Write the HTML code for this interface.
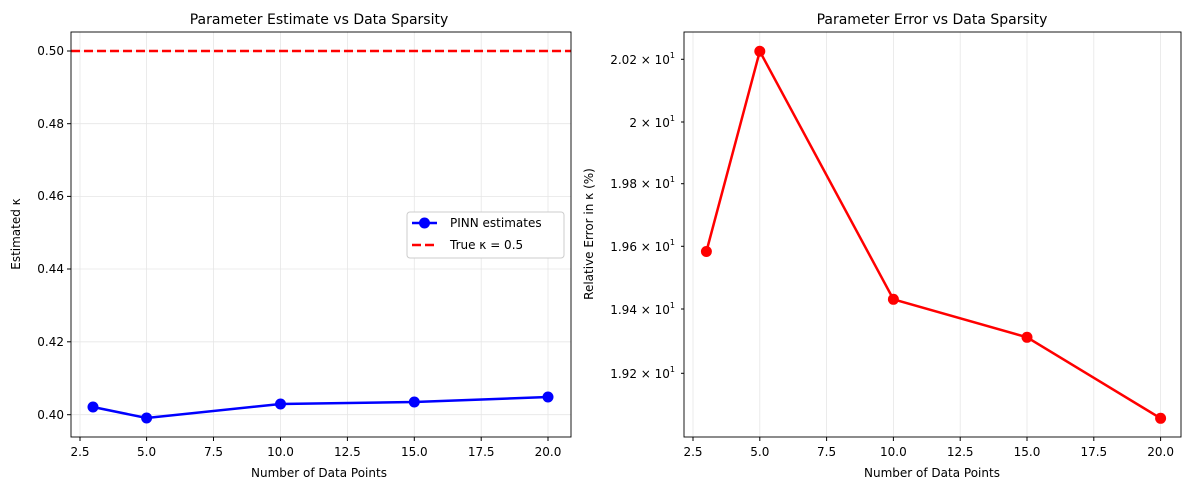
<!DOCTYPE html><html><head><style>body{margin:0;background:#fff}svg{font-family:"DejaVu Sans","Liberation Sans",sans-serif}</style></head><body>
<svg width="1189" height="490" xmlns="http://www.w3.org/2000/svg">
<rect width="1189" height="490" fill="#fff"/>
<g stroke="#e6e6e6" stroke-width="0.8">
<line x1="80" y1="32" x2="80" y2="437"/><line x1="146.6" y1="32" x2="146.6" y2="437"/><line x1="213.5" y1="32" x2="213.5" y2="437"/><line x1="280.5" y1="32" x2="280.5" y2="437"/><line x1="347.4" y1="32" x2="347.4" y2="437"/><line x1="414.3" y1="32" x2="414.3" y2="437"/><line x1="481.2" y1="32" x2="481.2" y2="437"/><line x1="548" y1="32" x2="548" y2="437"/>
<line x1="71" y1="51" x2="571" y2="51"/><line x1="71" y1="123.7" x2="571" y2="123.7"/><line x1="71" y1="196.4" x2="571" y2="196.4"/><line x1="71" y1="269" x2="571" y2="269"/><line x1="71" y1="341.8" x2="571" y2="341.8"/><line x1="71" y1="414.7" x2="571" y2="414.7"/>
<line x1="693" y1="32" x2="693" y2="437"/><line x1="759.8" y1="32" x2="759.8" y2="437"/><line x1="826.6" y1="32" x2="826.6" y2="437"/><line x1="893.4" y1="32" x2="893.4" y2="437"/><line x1="960.2" y1="32" x2="960.2" y2="437"/><line x1="1027" y1="32" x2="1027" y2="437"/><line x1="1093.8" y1="32" x2="1093.8" y2="437"/><line x1="1160.6" y1="32" x2="1160.6" y2="437"/>
</g>
<line x1="71" y1="51" x2="571" y2="51" stroke="#f00" stroke-width="2.5" stroke-dasharray="9,4"/>
<polyline points="93,407 146.6,418 280.5,404 414.3,402 548,397" fill="none" stroke="#00f" stroke-width="2.5"/>
<g fill="#00f"><circle cx="93" cy="407" r="5.5"/><circle cx="146.6" cy="418" r="5.5"/><circle cx="280.5" cy="404" r="5.5"/><circle cx="414.3" cy="402" r="5.5"/><circle cx="548" cy="397" r="5.5"/></g>
<rect x="71" y="32" width="500" height="405" fill="none" stroke="#000" stroke-width="0.9"/>
<g stroke="#000"><line x1="80" y1="437" x2="80" y2="441"/><line x1="146.6" y1="437" x2="146.6" y2="441"/><line x1="213.5" y1="437" x2="213.5" y2="441"/><line x1="280.5" y1="437" x2="280.5" y2="441"/><line x1="347.4" y1="437" x2="347.4" y2="441"/><line x1="414.3" y1="437" x2="414.3" y2="441"/><line x1="481.2" y1="437" x2="481.2" y2="441"/><line x1="548" y1="437" x2="548" y2="441"/>
<line x1="67" y1="51" x2="71" y2="51"/><line x1="67" y1="123.7" x2="71" y2="123.7"/><line x1="67" y1="196.4" x2="71" y2="196.4"/><line x1="67" y1="269" x2="71" y2="269"/><line x1="67" y1="341.8" x2="71" y2="341.8"/><line x1="67" y1="414.7" x2="71" y2="414.7"/></g>
<g font-size="12" text-anchor="middle" fill="#000"><text x="80" y="456">2.5</text><text x="146.6" y="456">5.0</text><text x="213.5" y="456">7.5</text><text x="280.5" y="456">10.0</text><text x="347.4" y="456">12.5</text><text x="414.3" y="456">15.0</text><text x="481.2" y="456">17.5</text><text x="548" y="456">20.0</text></g>
<g font-size="12" text-anchor="end"><text x="64" y="55">0.50</text><text x="64" y="128">0.48</text><text x="64" y="200">0.46</text><text x="64" y="273">0.44</text><text x="64" y="346">0.42</text><text x="64" y="419">0.40</text></g>
<text x="319" y="477" font-size="12" text-anchor="middle">Number of Data Points</text>
<text transform="translate(20,234) rotate(-90)" font-size="12" text-anchor="middle">Estimated κ</text>
<text x="319" y="24" font-size="14" text-anchor="middle">Parameter Estimate vs Data Sparsity</text>
<rect x="407" y="212" width="157" height="46" rx="3" fill="#fff" stroke="#ccc"/>
<line x1="412" y1="223" x2="437" y2="223" stroke="#00f" stroke-width="2.5"/><circle cx="424.5" cy="223" r="5.5" fill="#00f"/>
<line x1="412" y1="245" x2="437" y2="245" stroke="#f00" stroke-width="2.5" stroke-dasharray="9,4"/>
<text x="450" y="227" font-size="12">PINN estimates</text><text x="450" y="249" font-size="12">True κ = 0.5</text>
<polyline points="706.4,251.5 759.8,51.3 893.4,299.3 1027,337.3 1160.6,418.3" fill="none" stroke="#f00" stroke-width="2.5"/>
<g fill="#f00"><circle cx="706.4" cy="251.5" r="5.5"/><circle cx="759.8" cy="51.3" r="5.5"/><circle cx="893.4" cy="299.3" r="5.5"/><circle cx="1027" cy="337.3" r="5.5"/><circle cx="1160.6" cy="418.3" r="5.5"/></g>
<rect x="684" y="32" width="497" height="405" fill="none" stroke="#000" stroke-width="0.9"/>
<g stroke="#000"><line x1="693" y1="437" x2="693" y2="441"/><line x1="759.8" y1="437" x2="759.8" y2="441"/><line x1="826.6" y1="437" x2="826.6" y2="441"/><line x1="893.4" y1="437" x2="893.4" y2="441"/><line x1="960.2" y1="437" x2="960.2" y2="441"/><line x1="1027" y1="437" x2="1027" y2="441"/><line x1="1093.8" y1="437" x2="1093.8" y2="441"/><line x1="1160.6" y1="437" x2="1160.6" y2="441"/>
<line x1="681" y1="59.3" x2="684" y2="59.3"/><line x1="681" y1="122" x2="684" y2="122"/><line x1="681" y1="183.7" x2="684" y2="183.7"/><line x1="681" y1="246.3" x2="684" y2="246.3"/><line x1="681" y1="309" x2="684" y2="309"/><line x1="681" y1="373.3" x2="684" y2="373.3"/></g>
<g font-size="12" text-anchor="middle"><text x="693" y="456">2.5</text><text x="759.8" y="456">5.0</text><text x="826.6" y="456">7.5</text><text x="893.4" y="456">10.0</text><text x="960.2" y="456">12.5</text><text x="1027" y="456">15.0</text><text x="1093.8" y="456">17.5</text><text x="1160.6" y="456">20.0</text></g>
<g font-size="12" text-anchor="end"><text x="675" y="64">2.02 × 10<tspan font-size="8" dy="-6">1</tspan></text><text x="675" y="127">2 × 10<tspan font-size="8" dy="-6">1</tspan></text><text x="675" y="188">1.98 × 10<tspan font-size="8" dy="-6">1</tspan></text><text x="675" y="251">1.96 × 10<tspan font-size="8" dy="-6">1</tspan></text><text x="675" y="314">1.94 × 10<tspan font-size="8" dy="-6">1</tspan></text><text x="675" y="378">1.92 × 10<tspan font-size="8" dy="-6">1</tspan></text></g>
<text x="932" y="477" font-size="12" text-anchor="middle">Number of Data Points</text>
<text transform="translate(593,234) rotate(-90)" font-size="12" text-anchor="middle">Relative Error in κ (%)</text>
<text x="932" y="24" font-size="14" text-anchor="middle">Parameter Error vs Data Sparsity</text>
</svg></body></html>
